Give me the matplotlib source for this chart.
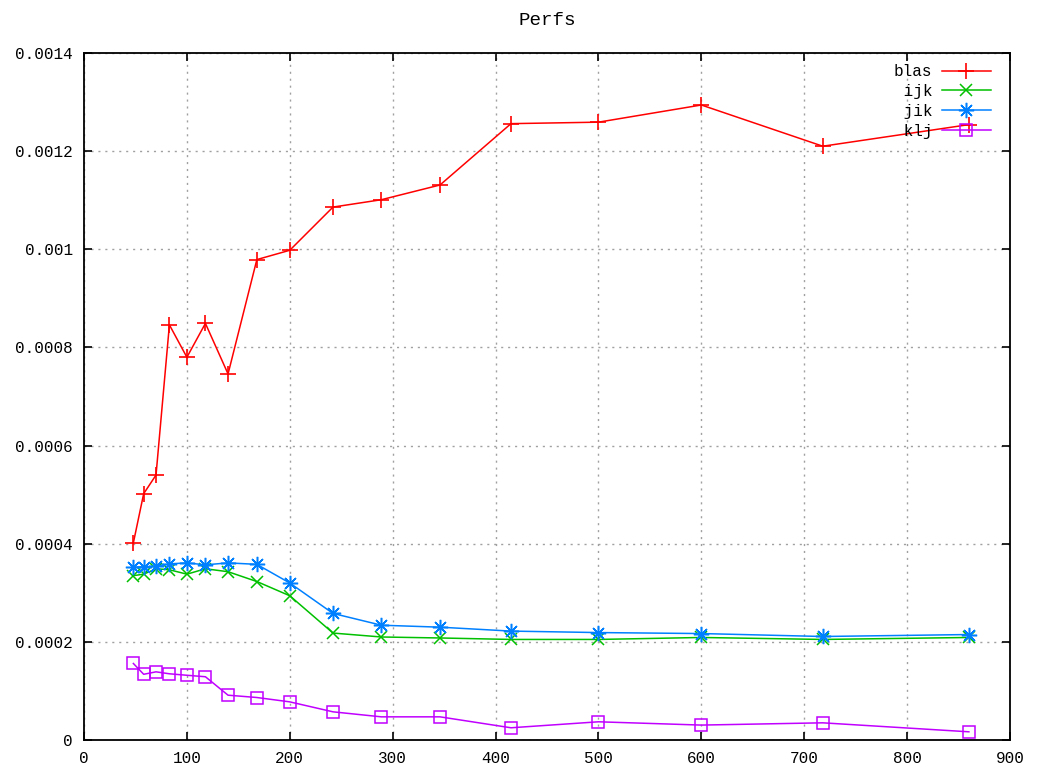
import matplotlib.pyplot as plt
from matplotlib.ticker import MultipleLocator, FuncFormatter

# matrix sizes and timings for each variant
sizes = [48, 58, 70, 83, 100, 118, 140, 168, 200, 242, 289, 346, 415, 500, 600, 718, 860]
blas = [0.000402, 0.000502, 0.000540, 0.000846, 0.000780, 0.000849, 0.000746, 0.000979,
        0.000998, 0.001086, 0.001101, 0.001131, 0.001256, 0.001259, 0.001294, 0.001210, 0.001254]
ijk = [0.000335, 0.000338, 0.000349, 0.000347, 0.000338, 0.000349, 0.000343, 0.000323,
       0.000294, 0.000218, 0.000210, 0.000208, 0.000205, 0.000205, 0.000209, 0.000205, 0.000209]
jik = [0.000352, 0.000353, 0.000354, 0.000359, 0.000361, 0.000357, 0.000361, 0.000358,
       0.000320, 0.000258, 0.000234, 0.000230, 0.000222, 0.000219, 0.000217, 0.000211, 0.000215]
klj = [0.000156, 0.000134, 0.000139, 0.000135, 0.000132, 0.000129, 0.0000914, 0.0000867,
       0.0000778, 0.0000575, 0.0000473, 0.0000473, 0.0000250, 0.0000372, 0.0000305, 0.0000351, 0.0000168]

names = ["blas", "ijk", "jik", "klj"]

plt.rcParams['font.family'] = ['Liberation Mono', 'DejaVu Sans Mono']
plt.rcParams['font.size'] = 11.5

fig = plt.figure(figsize=(10.37, 7.79), dpi=100)
ax = fig.add_axes([0.081, 0.050, 0.893, 0.882])

# right-align legend labels by padding (monospace font)
width = max(len(n) for n in names)
lab = [n.rjust(width) for n in names]

ax.plot(sizes, blas, color='#ff0000', lw=1.1, marker='+', ms=11, mew=1.2, label=lab[0])
ax.plot(sizes, ijk, color='#00c000', lw=1.1, marker='x', ms=9, mew=1.1, label=lab[1])
ax.plot(sizes, jik, color='#0080ff', lw=1.1, marker=(8, 2, 0), ms=11, mew=1.1, label=lab[2])
ax.plot(sizes, klj, color='#c000ff', lw=1.1, marker='s', ms=8, mew=1.1, mfc='none', label=lab[3])

ax.set_xlim(0, 900)
ax.set_ylim(0, 0.0014)
ax.xaxis.set_major_locator(MultipleLocator(100))
ax.yaxis.set_major_locator(MultipleLocator(0.0002))
ax.yaxis.set_major_formatter(FuncFormatter(lambda v, p: '%g' % round(v, 6)))

ax.grid(True, color='#a0a0a0', linestyle=(0, (1.5, 3.5)), lw=1)
ax.tick_params(direction='in', length=6, width=1.2, top=True, right=True, pad=8)
for s in ax.spines.values():
    s.set_linewidth(1.3)

ax.set_title("Perfs", pad=20)

ax.legend(loc='upper right', bbox_to_anchor=(0.991, 1.0), frameon=False, markerfirst=False,
          handlelength=3.05, handletextpad=0.6, labelspacing=0.3, borderaxespad=0.3, numpoints=1)

fig.savefig("out.png", dpi=100)
